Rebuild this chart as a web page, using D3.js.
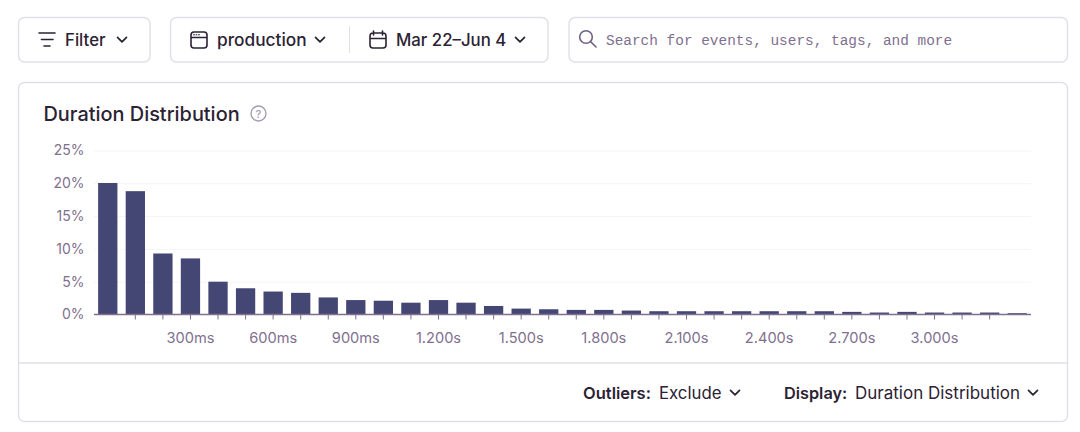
<!DOCTYPE html>
<html>
<head>
<meta charset="utf-8">
<script src="https://cdn.jsdelivr.net/npm/d3@7"></script>
<style>
  html, body { margin: 0; padding: 0; background: #fff; }
  svg { display: block; }
  text { font-family: Inter, "Noto Sans", sans-serif; }
  .axis text { fill: #80708f; font-size: 14.6px; }
  .axis.left text { font-size: 14px; }
  .mono { font-family: "Liberation Mono", monospace; }
</style>
</head>
<body>
<svg id="page" width="1080" height="432"></svg>
<script>
// duration bucket start, ms
var buckets = [0, 100, 200, 300, 400, 500, 600, 700, 800, 900, 1000, 1100, 1200, 1300, 1400, 1500, 1600,
  1700, 1800, 1900, 2000, 2100, 2200, 2300, 2400, 2500, 2600, 2700, 2800, 2900, 3000, 3100, 3200, 3300];
// percent of transactions per bucket
var shares = [20.05, 18.8, 9.3, 8.55, 5.0, 4.0, 3.5, 3.3, 2.6, 2.2, 2.1, 1.8, 2.2, 1.8, 1.3, 0.9, 0.8,
  0.7, 0.7, 0.6, 0.5, 0.5, 0.5, 0.5, 0.5, 0.5, 0.5, 0.4, 0.3, 0.4, 0.3, 0.3, 0.3, 0.2];
var yTicks = [0, 5, 10, 15, 20, 25];
var xLabels = [300, 600, 900, 1200, 1500, 1800, 2100, 2400, 2700, 3000];

var ink = "#2b2233", muted = "#80708f", line = "#e2dee6", barColor = "#444674";
var svg = d3.select("#page");

function box(x, y, w, h) {
  svg.append("rect").attr("x", x).attr("y", y).attr("width", w).attr("height", h)
    .attr("rx", 6).attr("fill", "#fff").attr("stroke", line).attr("stroke-width", 1.4);
}
function label(x, y, str, size, weight, color, anchor) {
  return svg.append("text").attr("x", x).attr("y", y).text(str)
    .attr("font-size", size).attr("font-weight", weight).attr("fill", color)
    .attr("text-anchor", anchor || "start");
}
function chevron(cx, cy) {
  svg.append("path").attr("d", "M" + (cx - 4.5) + "," + (cy - 2.2) + "l4.5,4.5l4.5,-4.5")
    .attr("fill", "none").attr("stroke", ink).attr("stroke-width", 1.7)
    .attr("stroke-linecap", "round").attr("stroke-linejoin", "round");
}
function icon(d, w) {
  svg.append("path").attr("d", d).attr("fill", "none").attr("stroke", ink)
    .attr("stroke-width", w || 1.6).attr("stroke-linecap", "round").attr("stroke-linejoin", "round");
}

// top bar
box(18.5, 17.5, 131.5, 44.5);
box(170.5, 17.5, 377.5, 44.5);
box(569, 17.5, 498.5, 44.5);
svg.append("line").attr("x1", 349.5).attr("x2", 349.5).attr("y1", 26).attr("y2", 53).attr("stroke", line);

icon("M39,33H55M41.5,39.5H53M44,46H50");
label(65, 45.5, "Filter", 16.8, 500, ink);
chevron(122, 39.5);

icon("M194,32H204a3,3 0 0 1 3,3V45a3,3 0 0 1 -3,3H194a3,3 0 0 1 -3,-3V35a3,3 0 0 1 3,-3ZM191,37.5H207");
icon("M193.5,34.8H194.5M196,34.8H197M198.5,34.8H199.5", 1);
label(217, 45.5, "production", 17.3, 500, ink);
chevron(320, 39.5);

icon("M373,33H383a3,3 0 0 1 3,3V45a3,3 0 0 1 -3,3H373a3,3 0 0 1 -3,-3V36a3,3 0 0 1 3,-3ZM370,38.5H386M373.5,31V35M382.5,31V35");
label(396, 45.5, "Mar 22–Jun 4", 16.8, 500, ink);
chevron(520, 39.5);

svg.append("circle").attr("cx", 586).attr("cy", 37).attr("r", 6.3)
  .attr("fill", "none").attr("stroke", "#6f6080").attr("stroke-width", 1.6);
svg.append("path").attr("d", "M590.5,41.5L596,47").attr("stroke", "#6f6080")
  .attr("stroke-width", 1.6).attr("stroke-linecap", "round");
label(606, 45, "Search for events, users, tags, and more", 14.43, 400, muted).attr("class", "mono");

// card
box(18.5, 82.5, 1049, 339);
svg.append("line").attr("x1", 19).attr("x2", 1067).attr("y1", 363).attr("y2", 363).attr("stroke", line).attr("stroke-width", 1.4);
label(43.5, 120.5, "Duration Distribution", 19.9, 500, ink);
svg.append("circle").attr("cx", 258.5).attr("cy", 113.5).attr("r", 7.5)
  .attr("fill", "none").attr("stroke", "#a79db3").attr("stroke-width", 1.4);
label(258.5, 117.5, "?", 11, 500, "#a79db3", "middle");

// chart
var x = d3.scaleBand().domain(buckets).range([94, 1031]).paddingInner(0.3).paddingOuter(0.15);
var y = d3.scaleLinear().domain([0, 25]).range([314.5, 150.5]);

svg.append("g").selectAll("line").data(yTicks.slice(1)).join("line")
  .attr("x1", 94).attr("x2", 1031)
  .attr("y1", function (d) { return y(d) + 0.5; })
  .attr("y2", function (d) { return y(d) + 0.5; })
  .attr("stroke", "#f5f4f6");

var yAxis = d3.axisLeft(y).tickValues(yTicks).tickSize(0).tickPadding(9.5)
  .tickFormat(function (d) { return d + "%"; });
var gy = svg.append("g").attr("class", "axis left").attr("transform", "translate(94,0)").call(yAxis);
gy.select(".domain").remove();

svg.append("g").selectAll("rect").data(buckets).join("rect")
  .attr("x", function (d) { return x(d); })
  .attr("width", x.bandwidth())
  .attr("y", function (d, i) { return y(shares[i]); })
  .attr("height", function (d, i) { return y(0) - y(shares[i]); })
  .attr("fill", barColor);

var xAxis = d3.axisBottom(x)
  .tickValues(buckets.slice(1, 33))
  .tickSize(5).tickPadding(13)
  .tickFormat(function (d) {
    if (xLabels.indexOf(d) < 0) return "";
    return d < 1000 ? d + "ms" : d3.format(".3f")(d / 1000) + "s";
  });
var gx = svg.append("g").attr("class", "axis").attr("transform", "translate(0,314.5)").call(xAxis);
gx.select(".domain").attr("stroke", muted).attr("stroke-width", 1.4).attr("d", "M94,0H1031");
gx.selectAll(".tick line").attr("stroke", muted);

// footer controls
label(583, 398.5, "Outliers:", 16.5, 600, ink);
label(659, 398.5, "Exclude", 16.8, 400, ink);
chevron(735, 392.5);
label(784, 398.5, "Display:", 16.3, 600, ink);
label(855, 398.5, "Duration Distribution", 17, 400, ink);
chevron(1033, 392.5);
</script>
</body>
</html>
